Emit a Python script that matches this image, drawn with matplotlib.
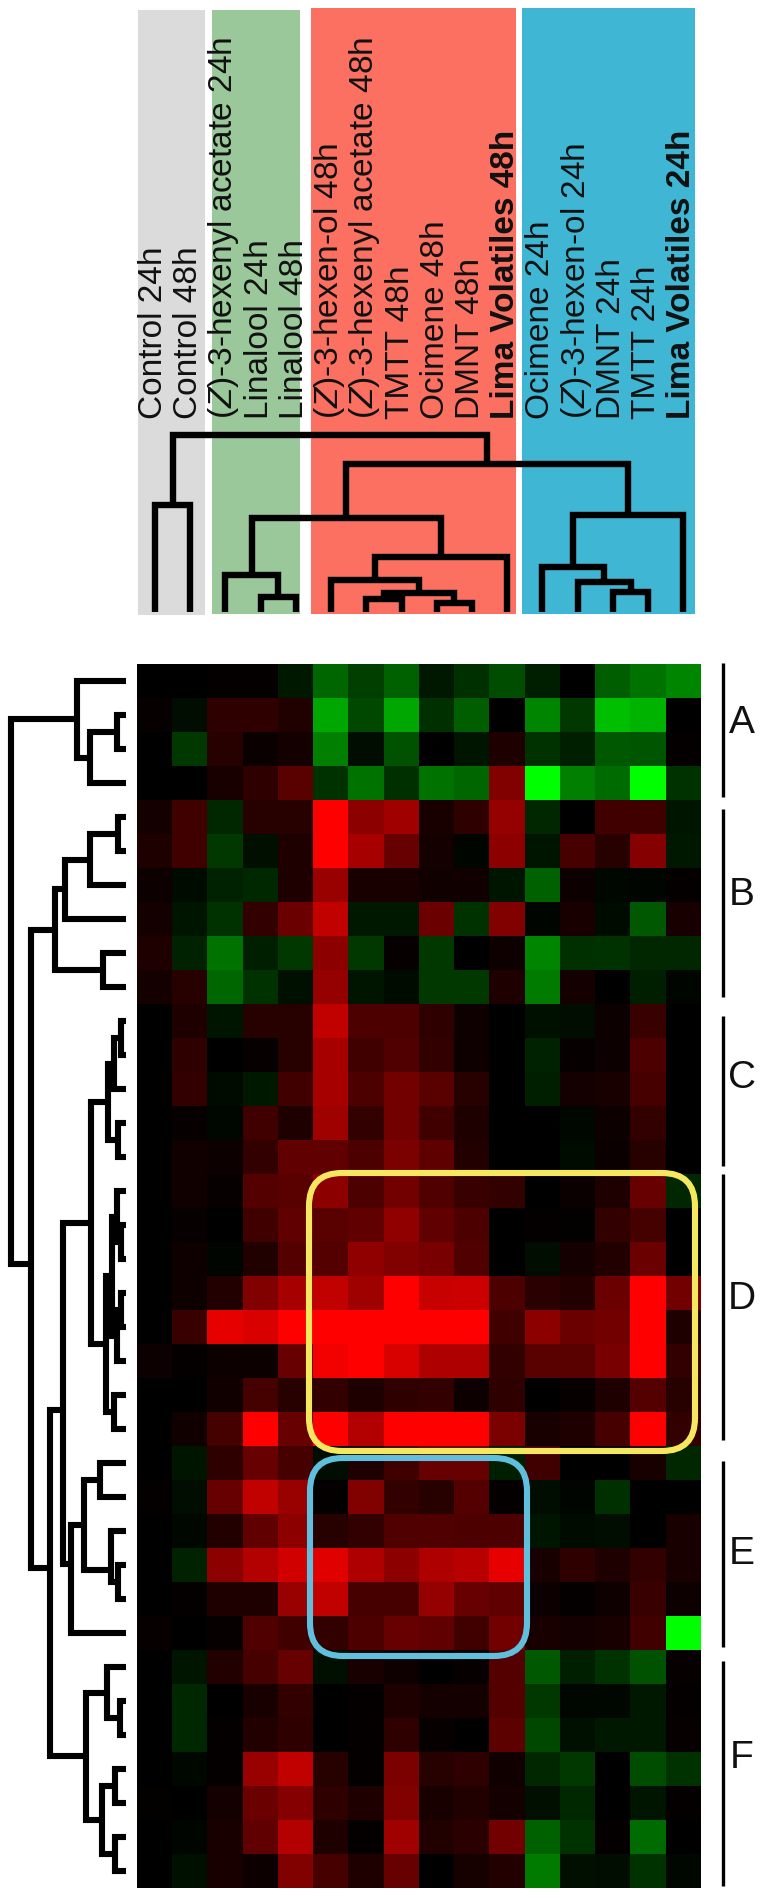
#!/usr/bin/env python3
"""Heatmap with sample and gene dendrograms, red-black-green scale."""
import matplotlib
matplotlib.use("Agg")
import matplotlib.pyplot as plt
import numpy as np
from matplotlib.colors import LinearSegmentedColormap
from matplotlib.patches import FancyBboxPatch, Rectangle

plt.rcParams["font.family"] = ["Liberation Sans", "DejaVu Sans"]
plt.rcParams["mathtext.fontset"] = "custom"
plt.rcParams["mathtext.rm"] = "Liberation Sans"
plt.rcParams["mathtext.it"] = "Liberation Sans:italic"

# positive = red, negative = green
HEAT = [
    [0, 0, .02, .02, -.1, -.4, -.25, -.38, -.1, -.18, -.3, -.12, 0, -.36, -.45, -.52],
    [.03, -.05, .18, .18, .13, -.65, -.28, -.65, -.18, -.36, 0, -.52, -.22, -.75, -.7, 0],
    [0, -.22, .15, .04, .08, -.5, -.05, -.32, 0, -.08, .12, -.2, -.12, -.35, -.33, .02],
    [0, 0, .1, .18, .35, -.2, -.45, -.18, -.45, -.4, .5, -1, -.5, -.42, -1, -.2],
    [.08, .25, -.15, .15, .15, 1, .55, .63, .1, .18, .58, -.15, 0, .25, .25, -.08],
    [.12, .25, -.22, -.06, .12, 1, .65, .4, .08, -.02, .55, -.08, .28, .15, .52, -.1],
    [.05, -.04, -.14, -.16, .12, .6, .1, .1, .07, .07, -.08, -.38, .05, -.03, -.02, .02],
    [.08, -.08, -.2, .2, .42, .75, -.1, -.1, .42, -.2, .5, -.02, .1, -.04, -.35, .1],
    [.12, -.14, -.45, -.12, -.22, .55, -.22, .03, -.22, 0, .06, -.52, -.18, -.2, -.15, -.15],
    [.08, .15, -.4, -.2, -.07, .58, -.08, -.04, -.22, -.22, .12, -.48, .08, 0, -.12, -.02],
    [0, .12, -.08, .15, .15, .75, .3, .3, .18, .06, 0, -.07, -.05, .05, .22, 0],
    [0, .18, 0, .03, .15, .65, .25, .32, .2, .06, 0, -.14, .03, .05, .3, 0],
    [0, .2, -.04, -.1, .25, .65, .3, .45, .35, .15, 0, -.12, .08, .1, .28, 0],
    [0, .03, -.03, .25, .12, .62, .2, .45, .25, .12, 0, 0, -.03, .05, .2, 0],
    [0, .07, .05, .2, .38, .38, .3, .48, .37, .14, 0, 0, -.04, .04, .15, 0],
    [0, .07, .03, .33, .35, .55, .3, .45, .32, .22, .2, 0, .04, .12, .4, -.15],
    [0, .03, 0, .25, .38, .35, .38, .57, .38, .3, 0, .02, .01, .2, .27, 0],
    [0, .06, -.02, .13, .33, .33, .57, .5, .47, .32, 0, -.05, .08, .14, .42, 0],
    [0, .06, .14, .5, .65, .75, .62, 1, .78, .8, .3, .17, .14, .42, 1, .45],
    [0, .22, .9, .85, 1, 1, 1, 1, 1, 1, .25, .55, .42, .45, 1, .12],
    [.05, .02, .05, .05, .4, .95, 1, .85, .68, .68, .2, .35, .35, .47, 1, .2],
    [0, 0, .07, .27, .15, .2, .12, .18, .2, .05, .18, 0, .03, .12, .33, .15],
    [0, .07, .27, 1, .4, 1, .7, 1, 1, 1, .48, .1, .12, .28, 1, .2],
    [0, -.08, .18, .4, .28, -.05, .12, .25, .4, .4, -.12, .25, 0, 0, .1, -.15],
    [.02, -.05, .4, .75, .6, .02, .5, .2, .15, .33, .02, -.05, -.02, -.18, 0, 0],
    [0, -.03, .14, .38, .55, .15, .2, .32, .32, .3, .3, -.08, -.04, -.05, 0, .1],
    [0, -.14, .55, .7, .82, .88, .68, .55, .68, .72, .9, .1, .18, .12, .2, .1],
    [0, .02, .12, .12, .6, .75, .28, .28, .58, .4, .38, .05, .02, .06, .22, .05],
    [.03, 0, .03, .32, .25, .2, .3, .4, .38, .25, .45, .1, .08, .1, .25, -1],
    [0, -.08, .14, .28, .4, -.06, .1, .06, 0, .03, .33, -.35, -.12, -.2, -.32, .03],
    [0, -.16, 0, .1, .2, 0, .02, .12, .08, .08, .33, -.22, -.03, -.03, -.1, .02],
    [0, -.16, .02, .14, .18, 0, .02, .18, .03, 0, .36, -.28, -.07, -.1, -.1, .03],
    [0, -.03, .02, .6, .75, .15, .02, .48, .15, .18, .07, -.15, -.22, 0, -.3, -.2],
    [.01, 0, .08, .42, .52, .18, .12, .5, .1, .13, .08, -.06, -.16, 0, -.08, .02],
    [0, -.02, .1, .38, .7, .12, .02, .62, .13, .17, .45, -.38, -.2, .02, -.42, 0],
    [0, -.07, .1, .05, .5, .28, .12, .4, 0, .09, .14, -.48, -.06, -.05, -.2, -.03],
]

SAMPLES = [
    "Control 24h", "Control 48h", r"($\mathit{Z}$)-3-hexenyl acetate 24h",
    "Linalool 24h", "Linalool 48h", r"($\mathit{Z}$)-3-hexen-ol 48h",
    r"($\mathit{Z}$)-3-hexenyl acetate 48h", "TMTT 48h", "Ocimene 48h", "DMNT 48h",
    "Lima Volatiles 48h", "Ocimene 24h", r"($\mathit{Z}$)-3-hexen-ol 24h",
    "DMNT 24h", "TMTT 24h", "Lima Volatiles 24h",
]
BOLD_SAMPLES = [10, 15]

# (name, child, child, height [, stem position in rows/columns if off-centre])
ROW_TREE = [
    ("a1", 1, 2, 117), ("a2", "a1", 3, 90), ("A", 0, "a2", 77),
    ("b1", 4, 5, 118), ("b2", "b1", 6, 90), ("b3", "b2", 7, 65),
    ("b4", 8, 9, 103), ("B", "b3", "b4", 55),
    ("c1", 10, 11, 120.7), ("c2", "c1", 12, 114), ("c3", 13, 14, 118),
    ("C", "c2", "c3", 108),
    ("d1", 16, 17, 121), ("d2", 15, "d1", 117), ("d3", 18, 19, 121),
    ("d4", "d3", 20, 117), ("d5", "d2", "d4", 112), ("d6", 21, 22, 114),
    ("D", "d5", "d6", 106), ("cd", "C", "D", 91),
    ("e1", 23, 24, 100), ("e2", 26, 27, 118), ("e3", 25, "e2", 111, 26.65),
    ("e4", "e1", "e3", 84), ("E", "e4", 28, 71, 26.47),
    ("de", "cd", "E", 63, 21.94),
    ("f1", 30, 31, 120), ("f2", 29, "f1", 107), ("f3", 32, 33, 115),
    ("f4", 34, 35, 115), ("f5", "f3", "f4", 102), ("F", "f2", "f5", 86),
    ("ef", "de", "F", 50, 26.6), ("bf", "B", "ef", 31, 17.65),
    ("root", "A", "bf", 11),
]
COL_TREE = [
    ("ctl", 0, 1, 505),
    ("g1", 3, 4, 597), ("green", 2, "g1", 575),
    ("r1", 6, 7, 599), ("r2", 8, 9, 603), ("r3", "r1", "r2", 593),
    ("r4", 5, "r3", 580), ("red", "r4", 10, 557),
    ("gr", "green", "red", 518),
    ("b1", 13, 14, 592), ("b2", 12, "b1", 582), ("b3", 11, "b2", 567),
    ("blue", "b3", 15, 515),
    ("grb", "gr", "blue", 464), ("root", "ctl", "grb", 435),
]

BAND_COLORS = ["#dbdbdb", "#9bc89a", "#fb7060", "#3fb7d4"]
BAND_X = [(138, 205), (212, 300), (311, 516), (522, 695)]
BAND_Y = [(10, 615), (10, 614), (8, 614), (8, 614)]

CLUSTERS = ["A", "B", "C", "D", "E", "F"]
CLUSTER_SPANS = [(663, 797), (809, 997), (1016, 1166), (1174, 1440), (1461, 1647), (1661, 1886)]
CLUSTER_LABEL_Y = [723, 895, 1078, 1299, 1554, 1758]

HEAT_L, HEAT_R, HEAT_T, HEAT_B = 137.3, 701, 664, 1888


def draw_tree(ax, tree, n_leaves, base, leaf_pos, vertical, lw):
    pos = {i: i + 0.5 for i in range(n_leaves)}
    hgt = {i: base for i in range(n_leaves)}
    for node in tree:
        name, a, b, h = node[:4]
        xs = [leaf_pos(pos[a]), leaf_pos(pos[a]), leaf_pos(pos[b]), leaf_pos(pos[b])]
        ys = [hgt[a], h, h, hgt[b]]
        if vertical:
            ax.plot(xs, ys, color="black", lw=lw, solid_joinstyle="miter",
                    solid_capstyle="butt", zorder=3)
        else:
            ax.plot(ys, xs, color="black", lw=lw, solid_joinstyle="miter",
                    solid_capstyle="butt", zorder=3)
        pos[name] = node[4] if len(node) > 4 else (pos[a] + pos[b]) / 2
        hgt[name] = h


def main():
    fig = plt.figure(figsize=(7.64, 18.98), dpi=100)
    ax = fig.add_axes([0, 0, 1, 1])
    ax.set_xlim(0, 764)
    ax.set_ylim(1898, 0)
    ax.axis("off")

    for col, (x0, x1), (y0, y1) in zip(BAND_COLORS, BAND_X, BAND_Y):
        ax.add_patch(Rectangle((x0, y0), x1 - x0, y1 - y0, color=col, lw=0, zorder=1))

    data = np.array(HEAT)
    nrow, ncol = data.shape
    col_w = (HEAT_R - HEAT_L) / ncol
    row_h = (HEAT_B - HEAT_T) / nrow

    cmap = LinearSegmentedColormap.from_list("rbg", ["#00ff00", "#000000", "#ff0000"])
    ax.imshow(data, cmap=cmap, vmin=-1, vmax=1, interpolation="nearest", aspect="auto",
              extent=(HEAT_L, HEAT_R, HEAT_B, HEAT_T), zorder=2)
    ax.set_xlim(0, 764)
    ax.set_ylim(1898, 0)

    draw_tree(ax, COL_TREE, ncol, 612, lambda p: HEAT_L + p * col_w, True, 4.6)
    draw_tree(ax, ROW_TREE, nrow, 126, lambda p: HEAT_T + p * row_h, False, 4.4)

    for i, label in enumerate(SAMPLES):
        ax.text(HEAT_L + (i + 0.5) * col_w - 1.5, 419, label, rotation=90, ha="center", va="bottom",
                fontsize=24, fontweight="bold" if i in BOLD_SAMPLES else "normal",
                color="#111111", zorder=4)

    for name, (y0, y1), ly in zip(CLUSTERS, CLUSTER_SPANS, CLUSTER_LABEL_Y):
        ax.plot([723, 723], [y0, y1], color="black", lw=2.4, solid_capstyle="butt", zorder=3)
        ax.text(742, ly, name, ha="center", va="center", fontsize=28, color="#111111")

    ax.add_patch(FancyBboxPatch((309 + 33, 1173 + 33), 695 - 309 - 66, 1451 - 1173 - 66,
                                boxstyle="round,pad=33,rounding_size=33", fc="none",
                                ec="#f5e85e", lw=4.4, zorder=5))
    ax.add_patch(FancyBboxPatch((310 + 33, 1458 + 33), 527 - 310 - 66, 1656 - 1458 - 66,
                                boxstyle="round,pad=33,rounding_size=33", fc="none",
                                ec="#5fbfdc", lw=4.4, zorder=5))

    fig.savefig("out.png", dpi=100, facecolor="white")
    plt.close(fig)


if __name__ == "__main__":
    main()
